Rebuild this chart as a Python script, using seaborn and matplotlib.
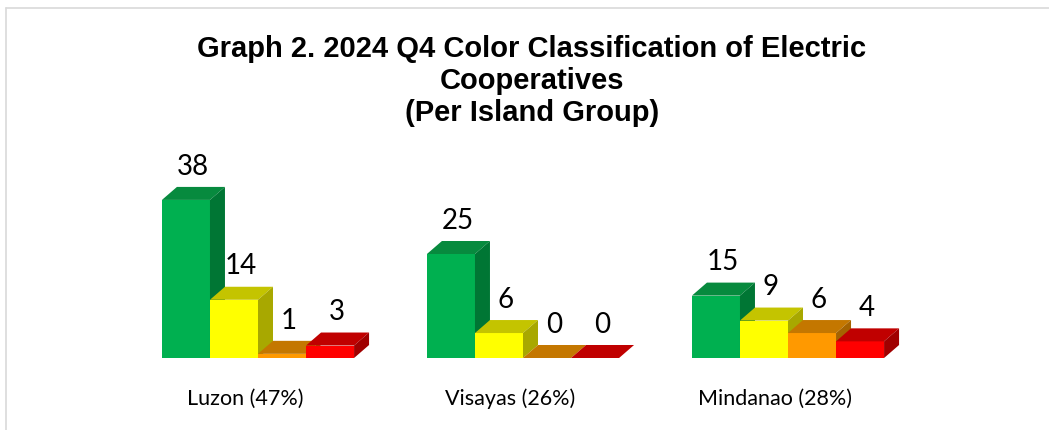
import pandas as pd
import numpy as np
import matplotlib
matplotlib.use("Agg")
import matplotlib.pyplot as plt
import matplotlib.transforms as mtransforms
from matplotlib.patches import Polygon
from matplotlib.lines import Line2D
from matplotlib.colors import to_hex
import seaborn as sns

# data
groups = ["Luzon (47%)", "Visayas (26%)", "Mindanao (28%)"]
classes = ["Green", "Yellow", "Orange", "Red"]
green = [38, 25, 15]
yellow = [14, 6, 9]
orange = [1, 0, 6]
red = [3, 0, 4]

front = ["#00b050", "#ffff00", "#ff9900", "#ff0000"]
top = ["#078a3e", "#c4c400", "#c47700", "#c00000"]
side = ["#007634", "#a8a800", "#a56300", "#a00000"]

df = pd.DataFrame({
    "group": groups * 4,
    "cls": [c for c in classes for _ in groups],
    "count": green + yellow + orange + red,
})

sns.set_style("white")
plt.rcParams["font.family"] = ["Lato", "DejaVu Sans"]
plt.rcParams["text.color"] = "black"
plt.rcParams["xtick.color"] = "black"

W, H = 1049, 430
fig = plt.figure(figsize=(W / 100, H / 100), dpi=100)
# axes placed in pixels: x=0 at px 258, 265 px per group, baseline at px 358
xl, xr = -0.75, 2.75
yl, yt = 0, 50
ax_left = 258 + 265 * xl
ax_w = 265 * (xr - xl)
ax_h = 4.16 * (yt - yl)
ax = fig.add_axes([ax_left / W, 72 / H, ax_w / W, ax_h / H])

sns.barplot(data=df, x="group", y="count", hue="cls", hue_order=classes,
            palette=front, width=0.725, saturation=1, dodge=True,
            legend=False, ax=ax, linewidth=0)
ax.set_xlim(xl, xr)
ax.set_ylim(yl, yt)

# 3d depth in data units
dx = 15 / ax_w * (xr - xl)
dy = 13 / ax_h * (yt - yl)

bars = sorted(ax.patches, key=lambda p: p.get_x())
for k, p in enumerate(bars):
    x0, w, h = p.get_x(), p.get_width(), p.get_height()
    ci = front.index(to_hex(p.get_facecolor()))
    z = 2 + k
    p.set_zorder(z)
    ax.add_patch(Polygon([(x0, h), (x0 + w, h), (x0 + w + dx, h + dy), (x0 + dx, h + dy)],
                         closed=True, facecolor=top[ci], edgecolor="none", zorder=z))
    ax.add_patch(Polygon([(x0 + w, 0), (x0 + w, h), (x0 + w + dx, h + dy), (x0 + w + dx, dy)],
                         closed=True, facecolor=side[ci], edgecolor="none", zorder=z))
    ax.annotate(f"{h:.0f}", (x0 + w / 2, h), xytext=(5, 24), textcoords="offset points",
                ha="center", va="center", fontsize=20, color="black", zorder=50,
                annotation_clip=False)

ax.set_xlabel("")
ax.set_ylabel("")
ax.set_yticks([])
ax.tick_params(axis="x", length=0, pad=22, labelsize=15.5, labelcolor="black")
shift = mtransforms.ScaledTranslation(-13 / 100, 0, fig.dpi_scale_trans)
for lab in ax.get_xticklabels():
    lab.set_transform(lab.get_transform() + shift)
sns.despine(ax=ax, left=True, bottom=True)
ax.patch.set_alpha(0)

fig.text(532 / W, 1 - 81 / H,
         "Graph 2. 2024 Q4 Color Classification of Electric\nCooperatives\n(Per Island Group)",
         ha="center", va="center", fontsize=21, fontweight="bold", color="black",
         family=["Liberation Sans", "DejaVu Sans"], linespacing=1.2)

# chart frame (only top and left visible)
fig.add_artist(Line2D([6 / W, 6 / W], [0, 1 - 8 / H], color="#d9d9d9", lw=1.2))
fig.add_artist(Line2D([6 / W, 1], [1 - 8 / H, 1 - 8 / H], color="#d9d9d9", lw=1.2))

fig.savefig("out.png", dpi=100)
